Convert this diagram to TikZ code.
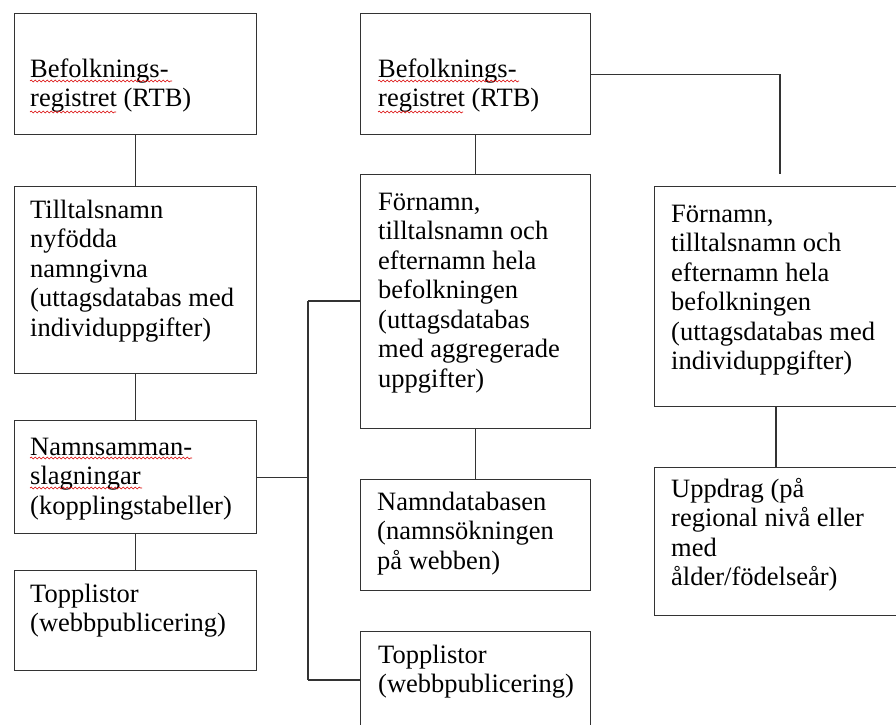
\documentclass[tikz,border=0pt]{standalone}
\usepackage{fontspec}
\setmainfont{Liberation Serif}
\usetikzlibrary{calc,decorations.pathmorphing}
\newcommand\tstr{\rule{0pt}{22pt}}
\begin{document}
\begin{tikzpicture}[x=1pt,y=-1pt,
  box/.style={draw=black!80, line width=1.3pt, rectangle, anchor=north west, inner sep=0pt},
  txt/.style={anchor=north west, inner sep=0pt, align=left, font=\fontsize{26.5}{29.5}\selectfont},
  conn/.style={draw=black!80, line width=1.3pt},
  squig/.style={draw=red!85!black, line width=0.6pt, decorate, decoration={snake, amplitude=0.9pt, segment length=4pt}}]
\useasboundingbox (0,0) rectangle (896,724);
\clip (0,0) rectangle (896,724);
% boxes
\node[box, minimum width=242pt, minimum height=121pt] (A) at (14,13) {};
\node[box, minimum width=242pt, minimum height=187pt] (B) at (14,186) {};
\node[box, minimum width=242pt, minimum height=113pt] (C) at (14,420) {};
\node[box, minimum width=242pt, minimum height=100pt] (D) at (14,570) {};
\node[box, minimum width=230pt, minimum height=121pt] (E) at (360,13) {};
\node[box, minimum width=230pt, minimum height=254pt] (F) at (360,174) {};
\node[box, minimum width=230pt, minimum height=111pt] (G) at (360,479) {};
\node[box, minimum width=230pt, minimum height=110pt] (H) at (360,631) {};
\node[box, minimum width=260pt, minimum height=220pt] (I) at (654,186) {};
\node[box, minimum width=260pt, minimum height=148pt] (J) at (654,467) {};
% texts
\node[txt] (tA) at ($(A.north west)+(16,42)$) {\tstr Befolknings-\\registret (RTB)};
\node[txt] (tB) at ($(B.north west)+(16,10)$) {\tstr Tilltalsnamn\\nyfödda\\namngivna\\(uttagsdatabas med\\individuppgifter)};
\node[txt] (tC) at ($(C.north west)+(16,13)$) {\tstr Namnsamman-\\slagningar\\(kopplingstabeller)};
\node[txt] (tD) at ($(D.north west)+(16,10)$) {\tstr Topplistor\\(webbpublicering)};
\node[txt] (tE) at ($(E.north west)+(18,42)$) {\tstr Befolknings-\\registret (RTB)};
\node[txt] (tF) at ($(F.north west)+(18,14)$) {\tstr Förnamn,\\tilltalsnamn och\\efternamn hela\\befolkningen\\(uttagsdatabas\\med aggregerade\\uppgifter)};
\node[txt] (tG) at ($(G.north west)+(17,9)$) {\tstr Namndatabasen\\(namnsökningen\\på webben)};
\node[txt] (tH) at ($(H.north west)+(18,10)$) {\tstr Topplistor\\(webbpublicering)};
\node[txt] (tI) at ($(I.north west)+(17,14)$) {\tstr Förnamn,\\tilltalsnamn och\\efternamn hela\\befolkningen\\(uttagsdatabas med\\individuppgifter)};
\node[txt] (tJ) at ($(J.north west)+(17,8)$) {\tstr Uppdrag (på\\regional nivå eller\\med\\ålder/födelseår)};
% spell-check squiggles
\draw[squig] (30,81) -- (172,81);
\draw[squig] (30,112) -- (116,112);
\draw[squig] (378,81) -- (519,81);
\draw[squig] (378,112) -- (463,112);
\draw[squig] (30,458) -- (192,458);
\draw[squig] (30,488) -- (142,488);
% connectors
\coordinate (jt) at (308,301);
\coordinate (jb) at (308,680);
\coordinate (ei) at (780,174);
\coordinate (ij) at (776,0);
\draw[conn] (A.south) -- (B.north);
\draw[conn] (B.south) -- (C.north);
\draw[conn] (C.south) -- (D.north);
\draw[conn] (C.east) -- (C.east -| jt);
\draw[conn] (jt) -- (jb);
\draw[conn] (jt) -- (jt -| F.west);
\draw[conn] (jb) -- (jb -| H.west);
\draw[conn] (E.south) -- (F.north);
\draw[conn] (F.south) -- (G.north);
\draw[conn] (E.east) -| (ei);
\draw[conn] (I.south -| ij) -- (J.north -| ij);
\end{tikzpicture}
\end{document}
